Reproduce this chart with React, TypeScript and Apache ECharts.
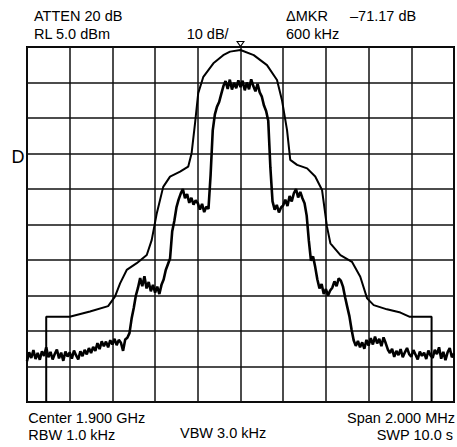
import React, { useEffect, useRef } from "react";
import * as echarts from "echarts";

// Spectrum analyser settings
const REF_LEVEL_DBM = 5;
const DB_PER_DIV = 10;
const DIVISIONS = 10;
const SPAN_KHZ = 2000;
const MARKER_KHZ = 0;

// Measured (noisy) trace: sweep points from START_KHZ in STEP_KHZ steps
const START_KHZ = -1000;
const STEP_KHZ = 10;
const traceDbm = [
  -83.5, -81.0, -82.6, -80.4, -82.9, -81.2, -83.1, -80.7, -82.0, -79.6,
  -82.4, -80.9, -83.0, -81.5, -80.2, -82.7, -81.1, -83.4, -80.8, -82.2,
  -81.0, -82.8, -80.5, -81.9, -83.0, -80.7, -82.1, -80.3, -81.6, -79.8,
  -81.2, -79.5, -80.6, -78.4, -80.1, -77.9, -79.3, -78.0, -79.6, -77.6,
  -78.8, -77.2, -79.0, -77.5, -78.3, -80.6, -77.4, -76.9, -75.6, -71.5,
  -68.5, -65.0, -62.8, -60.1, -62.4, -59.6, -63.0, -61.2, -63.8, -62.0,
  -64.2, -62.5, -64.6, -62.0, -60.5, -57.8, -56.2, -54.6, -47.0, -44.0,
  -40.2, -38.0, -36.3, -35.0, -37.6, -36.4, -38.9, -37.5, -39.4, -38.2,
  -39.0, -40.8, -39.2, -41.5, -40.0, -40.6, -31.0, -18.5, -14.0, -11.8,
  -10.5, -8.2, -6.0, -4.6, -6.8, -4.2, -7.0, -5.1, -6.6, -4.4,
  -6.3, -4.5, -7.2, -5.0, -6.9, -4.1, -6.0, -7.5, -5.4, -7.8,
  -9.0, -11.5, -13.0, -15.8, -29.0, -38.5, -40.8, -39.5, -41.6, -40.2,
  -39.6, -38.0, -39.8, -37.0, -38.5, -36.2, -35.0, -37.4, -35.8, -37.6,
  -39.0, -42.5, -49.5, -55.2, -54.0, -57.0, -60.5, -63.0, -61.8, -64.6,
  -63.2, -65.0, -63.6, -62.8, -61.0, -62.4, -60.2, -60.8, -62.5, -65.5,
  -68.2, -70.8, -74.5, -77.6, -79.2, -77.8, -79.6, -78.2, -80.0, -77.5,
  -79.1, -77.0, -78.8, -76.6, -78.5, -77.2, -79.3, -76.8, -78.4, -80.2,
  -81.2, -80.0, -82.3, -80.6, -81.8, -80.1, -82.4, -81.0, -79.8, -81.5,
  -82.2, -80.4, -81.7, -83.0, -80.8, -82.0, -81.1, -82.9, -80.5, -81.9,
  -82.6, -80.3, -81.5, -79.6, -82.8, -80.9, -83.2, -81.0, -79.8, -82.4, -81.3,
];

// Max-hold envelope trace
const envelopeKhz = [
  -910, -910, -800, -705, -620, -588, -564, -533, -486, -439, -416, -392, -362,
  -330, -283, -245, -229, -213, -198, -174, -127, -81, -49, 0, 62, 124, 171,
  194, 218, 233, 265, 312, 350, 382, 405, 421, 468, 522, 561, 593, 624, 686,
  749, 793, 895, 895,
];
const envelopeDbm = [
  -95, -71.0, -71.0, -69.5, -68.0, -65.3, -61.6, -57.8, -55.9, -53.6, -49.4,
  -41.8, -34.4, -31.5, -30.1, -28.7, -24.9, -16.5, -8.0, -3.4, 0.4, 2.7, 3.7,
  4.15, 2.7, -0.1, -4.3, -9.9, -18.4, -26.8, -28.2, -29.2, -31.5, -35.3, -45.6,
  -50.3, -53.6, -55.5, -59.7, -65.8, -67.7, -68.9, -69.8, -71.0, -71.0, -95,
];

const FONT = '"Liberation Sans", Arial, Helvetica, sans-serif';

export default function App() {
  const ref = useRef<HTMLDivElement>(null);

  useEffect(() => {
    if (!ref.current) return;
    const chart = echarts.init(ref.current, undefined, { renderer: "svg" });

    const rel = (v: number) => v - REF_LEVEL_DBM;
    const traceData = traceDbm.map((v, i) => [START_KHZ + i * STEP_KHZ, rel(v)]);
    const envData = envelopeKhz.map((f, i) => [f, rel(envelopeDbm[i])]);

    const txt = (
      text: string,
      x: number,
      y: number,
      align: string = "left",
      size = 14.5
    ) => ({
      type: "text",
      x,
      y,
      silent: true,
      style: {
        text,
        fill: "#000",
        font: `${size}px ${FONT}`,
        align,
        verticalAlign: "middle",
      },
    });

    chart.setOption({
      animation: false,
      backgroundColor: "#fff",
      grid: {
        left: 27,
        right: 3,
        top: 47,
        bottom: 45,
        show: true,
        borderColor: "#000",
        borderWidth: 2,
        backgroundColor: "transparent",
      },
      xAxis: {
        type: "value",
        min: -SPAN_KHZ / 2,
        max: SPAN_KHZ / 2,
        interval: SPAN_KHZ / DIVISIONS,
        axisLine: { show: false },
        axisTick: { show: false },
        axisLabel: { show: false },
        splitLine: { show: true, lineStyle: { color: "#111", width: 1.5 } },
      },
      yAxis: {
        type: "value",
        min: -DB_PER_DIV * DIVISIONS,
        max: 0,
        interval: DB_PER_DIV,
        axisLine: { show: false },
        axisTick: { show: false },
        axisLabel: { show: false },
        splitLine: { show: true, lineStyle: { color: "#111", width: 1.5 } },
      },
      series: [
        {
          type: "line",
          data: envData,
          symbol: "none",
          lineStyle: { color: "#000", width: 2 },
          silent: true,
          markPoint: {
            silent: true,
            data: [
              {
                coord: [MARKER_KHZ, 0],
                symbol: "triangle",
                symbolRotate: 180,
                symbolSize: [7, 5],
                symbolOffset: [0, -3],
                itemStyle: { color: "#fff", borderColor: "#000", borderWidth: 1 },
                label: { show: false },
              },
            ],
          },
        },
        {
          type: "line",
          data: traceData,
          symbol: "none",
          lineStyle: { color: "#000", width: 2.6 },
          silent: true,
        },
      ],
      graphic: [
        txt("ATTEN 20 dB", 34, 15.6),
        txt("RL 5.0 dBm", 34, 33.9),
        txt("10 dB/", 186.7, 33.9),
        txt("\u0394MKR", 286, 15.6),
        txt("\u201371.17 dB", 350, 15.6),
        txt("600 kHz", 286, 33.9),
        txt("Center 1.900 GHz", 28.3, 417.6),
        txt("RBW 1.0 kHz", 28.3, 434.9),
        txt("VBW 3.0 kHz", 180, 433.2),
        txt("Span 2.000 MHz", 455, 417.6, "right"),
        txt("SWP 10.0 s", 453, 434.9, "right"),
        txt("D", 11.5, 157, "left", 18),
      ],
    });

    return () => chart.dispose();
  }, []);

  return (
    <div
      ref={ref}
      style={{
        position: "absolute",
        left: 0,
        top: 0,
        width: 457,
        height: 447,
        background: "#fff",
      }}
    />
  );
}
